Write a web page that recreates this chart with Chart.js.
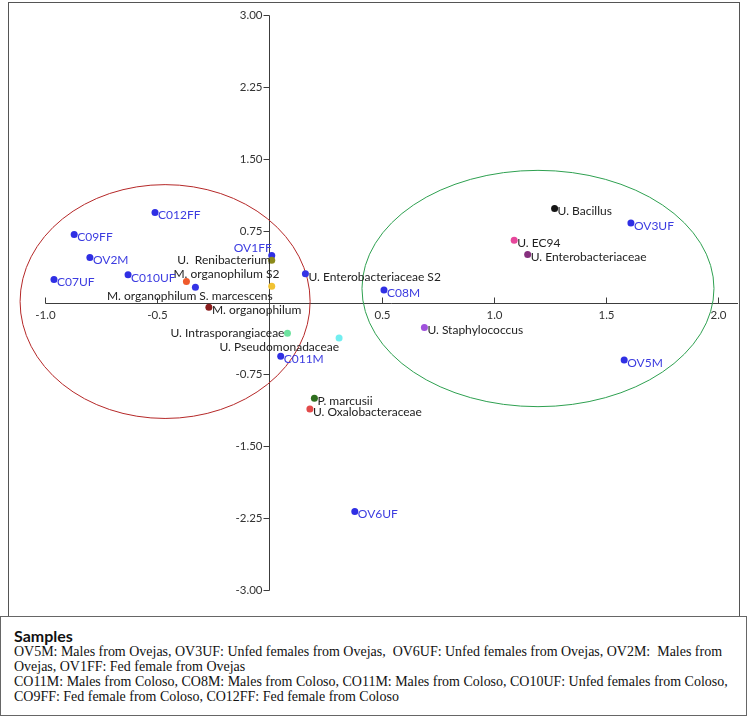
<!DOCTYPE html>
<html>
<head>
<meta charset="utf-8">
<script src="https://cdn.jsdelivr.net/npm/chart.js@4.4.1/dist/chart.umd.min.js"></script>
<style>
  body { margin: 0; background: #fff; }
  #wrap { position: relative; width: 747px; height: 716px; overflow: hidden; }
  #frame { position: absolute; left: 8px; top: 2px; width: 730px; height: 640px; border: 1px solid #555; }
  #plot { position: absolute; left: 0; top: 0; }
  #samples { position: absolute; left: 0; top: 616px; width: 745px; height: 98px; border: 1px solid #666; background: #fff; }
  #samples h4 { margin: 0; position: absolute; left: 13px; top: 9px; font: bold 16px Lato, sans-serif; color: #111; }
  #samples .ln { position: absolute; left: 13px; white-space: pre; font-family: "Liberation Serif", serif; color: #111; }
</style>
</head>
<body>
<div id="wrap">
  <div id="frame"></div>
  <canvas id="plot" width="747" height="614"></canvas>
  <div id="samples">
    <h4>Samples</h4>
    <div class="ln" style="top:27px">OV5M: Males from Ovejas, OV3UF: Unfed females from Ovejas,  OV6UF: Unfed females from Ovejas, OV2M:  Males from</div>
    <div class="ln" style="top:42px">Ovejas, OV1FF: Fed female from Ovejas</div>
    <div class="ln" style="top:57px">CO11M: Males from Coloso, CO8M: Males from Coloso, CO11M: Males from Coloso, CO10UF: Unfed females from Coloso,</div>
    <div class="ln" style="top:72px">CO9FF: Fed female from Coloso, CO12FF: Fed female from Coloso</div>
  </div>
</div>
<script>
'use strict';
// axis ticks
var xTicks = [-1.0, -0.5, 0.5, 1.0, 1.5, 2.0];
var yTicks = [3.00, 2.25, 1.50, 0.75, -0.75, -1.50, -2.25, -3.00];

// samples (blue points)
var sampleNames = ['C012FF', 'C09FF', 'OV2M', 'C07UF', 'C010UF', 'OV1FF', 'C011M', 'C08M', 'OV3UF', 'OV5M', 'OV6UF'];
var sampleX = [-0.51, -0.87, -0.80, -0.96, -0.63, 0.01, 0.05, 0.51, 1.61, 1.58, 0.38];
var sampleY = [0.94, 0.71, 0.47, 0.24, 0.29, 0.49, -0.56, 0.13, 0.83, -0.60, -2.18];

// bacteria
var otuNames = ['U. Bacillus', 'U. EC94', 'U. Enterobacteriaceae', 'U. Enterobacteriaceae S2', 'U. Staphylococcus',
  'U. Intrasporangiaceae', 'U. Pseudomonadaceae', 'P. marcusii', 'U. Oxalobacteraceae', 'M. organophilum',
  'U.  Renibacterium', 'S. marcescens', 'M. organophilum S2', 'M. organophilum'];
var otuX = [1.27, 1.09, 1.15, 0.16, 0.69, 0.08, 0.31, 0.20, 0.18, -0.27, 0.01, 0.01, -0.37, -0.33];
var otuY = [0.98, 0.65, 0.50, 0.30, -0.26, -0.32, -0.37, -1.00, -1.11, -0.05, 0.44, 0.17, 0.22, 0.16];
var otuColors = ['#151515', '#e6479b', '#86307e', '#3434e6', '#a052dc', '#6fe3a0', '#72eef0', '#2e6e1e',
  '#e24a4a', '#8a1d1d', '#8c8a1a', '#f1c232', '#ef5a2c', '#3434e6'];

// label placement: [anchor side, dx, dy] in pixels from the point
var sampleLabelPos = [['l',3,3],['l',3,3],['l',3,3],['l',3,3],['l',3,3],['r',0,-7],['l',3,3],['l',3,3],['l',3,3],['l',3,3],['l',3,3]];
var otuLabelPos = [['l',3,3],['l',3,3],['l',3,3],['l',3,3],['l',3,3],['r',-3,0],['r',0,9],['l',3,3],['l',3,3],['l',3,3],
  ['r',-1,0],['r',1,10],['l',-13,-7],['r',1,9]];

// group ellipses: centre x, centre y, radius x, radius y (data units)
var ellipses = [
  { cx: -0.465, cy: 0.01, rx: 0.646, ry: 1.22, color: '#b52828' },
  { cx: 1.196, cy: 0.146, rx: 0.784, ry: 1.233, color: '#2ea050' }
];

function toPoints(xs, ys) {
  var pts = [];
  for (var i = 0; i < xs.length; i++) {
    pts.push({ x: xs[i], y: ys[i] });
  }
  return pts;
}

// draws the cross axes, ticks and ellipses
var axesPlugin = {
  id: 'crossAxes',
  beforeDatasetsDraw: function(chart) {
    var ctx = chart.ctx;
    var xs = chart.scales.x;
    var ys = chart.scales.y;
    var x0 = Math.round(xs.getPixelForValue(0)) + 0.5;
    var y0 = Math.round(ys.getPixelForValue(0)) + 0.5;
    ctx.save();
    ctx.strokeStyle = '#3c3c3c';
    ctx.lineWidth = 1;
    ctx.fillStyle = '#333';
    ctx.font = '11.5px Lato, sans-serif';

    // vertical axis
    ctx.beginPath();
    ctx.moveTo(x0, Math.round(ys.getPixelForValue(3)) + 0.5);
    ctx.lineTo(x0, Math.round(ys.getPixelForValue(-3)) + 0.5);
    ctx.stroke();
    ctx.textAlign = 'right';
    ctx.textBaseline = 'middle';
    for (var i = 0; i < yTicks.length; i++) {
      var py = Math.round(ys.getPixelForValue(yTicks[i])) + 0.5;
      ctx.beginPath();
      ctx.moveTo(x0 - 6, py);
      ctx.lineTo(x0, py);
      ctx.stroke();
      ctx.fillText(yTicks[i].toFixed(2), x0 - 7, py);
    }

    // horizontal axis
    ctx.beginPath();
    ctx.moveTo(Math.round(xs.getPixelForValue(-1)) + 0.5, y0);
    ctx.lineTo(chart.chartArea.right, y0);
    ctx.stroke();
    ctx.textAlign = 'center';
    ctx.textBaseline = 'top';
    for (var j = 0; j < xTicks.length; j++) {
      var px = Math.round(xs.getPixelForValue(xTicks[j])) + 0.5;
      ctx.beginPath();
      ctx.moveTo(px, y0 - 6);
      ctx.lineTo(px, y0);
      ctx.stroke();
      ctx.fillText(xTicks[j].toFixed(1), px, y0 + 6);
    }

    // ellipses
    for (var k = 0; k < ellipses.length; k++) {
      var e = ellipses[k];
      var cx = xs.getPixelForValue(e.cx);
      var cy = ys.getPixelForValue(e.cy);
      var rx = Math.abs(xs.getPixelForValue(e.cx + e.rx) - cx);
      var ry = Math.abs(ys.getPixelForValue(e.cy + e.ry) - cy);
      ctx.strokeStyle = e.color;
      ctx.beginPath();
      ctx.ellipse(cx, cy, rx, ry, 0, 0, Math.PI * 2);
      ctx.stroke();
    }
    ctx.restore();
  }
};

// writes the name next to every point
var labelPlugin = {
  id: 'pointNames',
  afterDatasetsDraw: function(chart) {
    var ctx = chart.ctx;
    ctx.save();
    ctx.font = '12px Lato, sans-serif';
    ctx.textBaseline = 'middle';
    chart.data.datasets.forEach(function(ds, di) {
      var meta = chart.getDatasetMeta(di);
      meta.data.forEach(function(pt, i) {
        var pos = ds.labelPos[i];
        ctx.fillStyle = ds.labelColor;
        ctx.textAlign = pos[0] === 'l' ? 'left' : 'right';
        ctx.fillText(ds.names[i], pt.x + pos[1], pt.y + pos[2]);
      });
    });
    ctx.restore();
  }
};

var ctx = document.getElementById('plot').getContext('2d');
var chart = new Chart(ctx, {
  type: 'scatter',
  data: {
    datasets: [
      {
        label: 'Bacteria',
        data: toPoints(otuX, otuY),
        names: otuNames,
        labelPos: otuLabelPos,
        labelColor: '#222',
        pointBackgroundColor: otuColors,
        pointBorderWidth: 0,
        pointRadius: 3.5
      },
      {
        label: 'Samples',
        data: toPoints(sampleX, sampleY),
        names: sampleNames,
        labelPos: sampleLabelPos,
        labelColor: '#3b3be0',
        pointBackgroundColor: '#2f2fe4',
        pointBorderWidth: 0,
        pointRadius: 3.5
      }
    ]
  },
  options: {
    responsive: false,
    animation: false,
    devicePixelRatio: 1,
    layout: { padding: { left: 45, right: 9, top: 15, bottom: 24 } },
    plugins: { legend: { display: false }, tooltip: { enabled: false } },
    scales: {
      x: { type: 'linear', min: -1, max: 2.087, display: false },
      y: { type: 'linear', min: -3, max: 3, display: false }
    }
  },
  plugins: [axesPlugin, labelPlugin]
});

// fit the caption lines to the box width
(function() {
  var lines = document.querySelectorAll('#samples .ln');
  var m = document.createElement('canvas').getContext('2d');
  m.font = '14px "Liberation Serif"';
  var w = m.measureText(lines[0].textContent).width;
  var size = 14 * 709 / w;
  for (var i = 0; i < lines.length; i++) {
    lines[i].style.fontSize = size + 'px';
  }
})();
</script>
</body>
</html>
